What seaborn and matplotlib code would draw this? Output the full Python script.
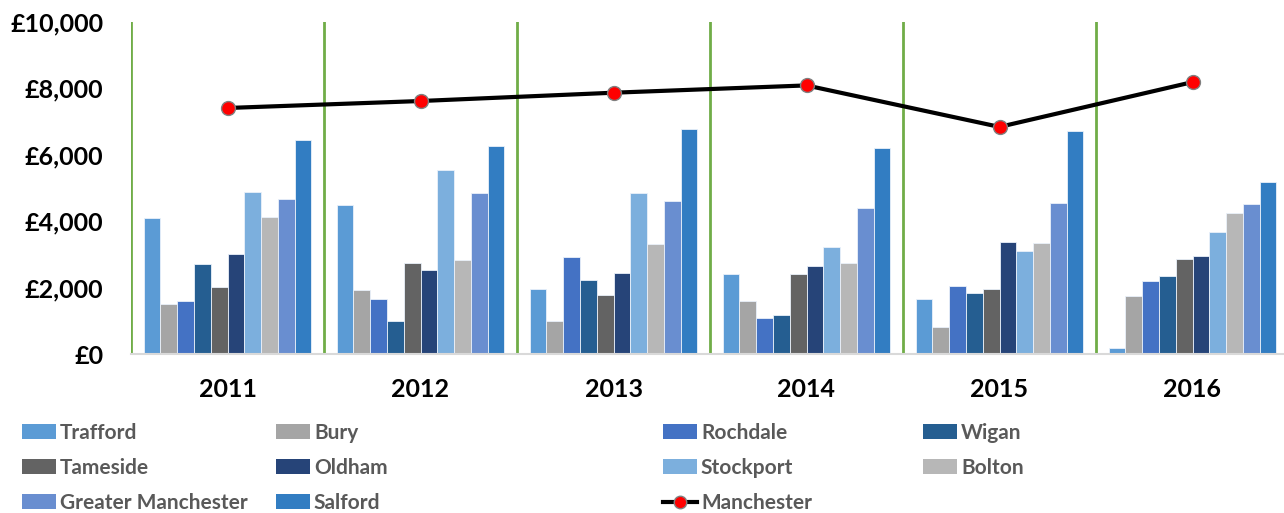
import numpy as np
import pandas as pd
import matplotlib
matplotlib.use("Agg")
import matplotlib.pyplot as plt
from matplotlib.lines import Line2D
from matplotlib.patches import Patch
import seaborn as sns

# dados
anos = ["2011", "2012", "2013", "2014", "2015", "2016"]
trafford = [4090, 4480, 1970, 2400, 1670, 170]
bury = [1510, 1940, 990, 1600, 820, 1760]
rochdale = [1590, 1670, 2920, 1090, 2040, 2210]
wigan = [2700, 980, 2220, 1170, 1830, 2350]
tameside = [2010, 2740, 1790, 2410, 1960, 2850]
oldham = [3010, 2520, 2430, 2650, 3360, 2950]
stockport = [4880, 5540, 4840, 3230, 3110, 3670]
bolton = [4130, 2820, 3310, 2750, 3350, 4260]
greater_manchester = [4680, 4850, 4600, 4400, 4550, 4520]
salford = [6450, 6270, 6770, 6200, 6720, 5190]
manchester = [7410, 7620, 7870, 8090, 6840, 8190]

series = {
    "Trafford": trafford,
    "Bury": bury,
    "Rochdale": rochdale,
    "Wigan": wigan,
    "Tameside": tameside,
    "Oldham": oldham,
    "Stockport": stockport,
    "Bolton": bolton,
    "Greater Manchester": greater_manchester,
    "Salford": salford,
}
cores = ["#5B9BD5", "#A5A5A5", "#4472C4", "#255E91", "#636363",
         "#264478", "#7CAFDD", "#B7B7B7", "#698ED0", "#327DC2"]

rows = []
for nome, vals in series.items():
    for ano, v in zip(anos, vals):
        rows.append({"ano": ano, "area": nome, "valor": v})
df = pd.DataFrame(rows)

FONTE = {"family": "Lato", "weight": "bold"}

W, H = 1284, 513
fig = plt.figure(figsize=(W / 100, H / 100), dpi=100)
ax = fig.add_axes([131 / W, (H - 354) / H, (W - 131) / W, (354 - 22) / H])

sns.barplot(data=df, x="ano", y="valor", hue="area", order=anos,
            hue_order=list(series.keys()), palette=cores, saturation=1,
            width=0.87, gap=0, errorbar=None, edgecolor="#EAF1FA",
            linewidth=0.6, legend=False, ax=ax)

x = np.arange(len(anos))
ax.plot(x, manchester, color="black", lw=3, marker="o", ms=10,
        mfc="red", mec="#808080", mew=1, zorder=5)

for i in x:
    ax.axvline(i - 0.5, color="#70AD47", lw=2, zorder=1)

ax.set_xlim(-0.5, -0.5 + (W - 131) / 193)
ax.set_ylim(0, 10000)
ax.set_yticks(range(0, 10001, 2000))
ax.set_yticklabels([f"£{v:,}" for v in range(0, 10001, 2000)])
ax.set_xlabel("")
ax.set_ylabel("")
for s in ["top", "right", "left"]:
    ax.spines[s].set_visible(False)
ax.spines["bottom"].set_color("#D9D9D9")
ax.spines["bottom"].set_linewidth(1.5)
ax.tick_params(axis="both", length=0)
ax.tick_params(axis="y", pad=20)
ax.tick_params(axis="x", pad=17)
for lab in ax.get_yticklabels() + ax.get_xticklabels():
    lab.set_fontfamily(FONTE["family"])
    lab.set_fontweight(FONTE["weight"])
    lab.set_fontsize(18)

# legenda em colunas separadas
nomes = list(series.keys())
handles = {n: Patch(facecolor=c) for n, c in zip(nomes, cores)}
handles["Manchester"] = Line2D([], [], color="black", lw=3, marker="o",
                               ms=9, mfc="red", mec="#808080")
colunas = [
    (["Trafford", "Tameside", "Greater Manchester"], 22),
    (["Bury", "Oldham", "Salford"], 276),
    (["Rochdale", "Stockport", "Manchester"], 663),
    (["Wigan", "Bolton"], 923),
]
for labels, xpix in colunas:
    leg = fig.legend([handles[l] for l in labels], labels, loc="upper left",
                     bbox_to_anchor=(xpix / W, 1 - 423 / H), frameon=False,
                     handlelength=1.62, handleheight=0.7, handletextpad=0.2,
                     labelspacing=0.72, borderpad=0, borderaxespad=0,
                     prop={**FONTE, "size": 15})
    for t in leg.get_texts():
        t.set_color("#595959")

fig.savefig("out.png", dpi=100)
